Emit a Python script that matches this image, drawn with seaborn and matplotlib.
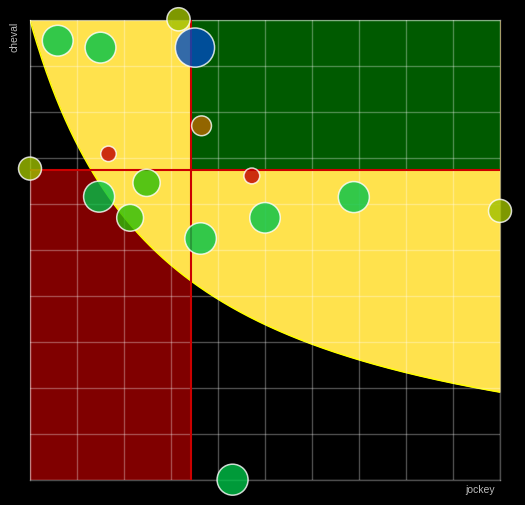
import numpy as np
import pandas as pd
import matplotlib
matplotlib.use("Agg")
import matplotlib.pyplot as plt
import seaborn as sns

# ---- data ----
jockey = [5.9, 15.0, 31.6, 35.1, 36.5, 16.7, 0.0, 14.7, 24.8, 21.3, 36.3, 47.2, 68.9, 50.0, 100.0, 43.1]
cheval = [95.5, 94.0, 100.15, 94.0, 77.0, 70.9, 67.7, 61.6, 64.6, 57.0, 52.5, 66.1, 61.5, 57.0, 58.5, 0.07]
diam = [32.3, 32.3, 24.7, 40.7, 21.3, 17.0, 24.5, 32.5, 28.7, 28.3, 33.0, 17.3, 32.5, 32.0, 24.5, 32.5]
group = ["green", "green", "olive", "blue", "brown", "red", "olive", "green", "lime", "lime",
         "green", "red", "green", "green", "olive", "green"]

x_threshold = 34.26
y_threshold = 67.39

# boundary of the yellow zone: (x + A) * (y + B) = C  (zone geometry)
zone_A, zone_B, zone_C = 28.55, 4.0, 2969.0

palette = {"green": "#00C248", "lime": "#2CBD08", "olive": "#9FBF00",
           "brown": "#B86900", "red": "#C00000", "blue": "#004CC0"}

df = pd.DataFrame({"jockey": jockey, "cheval": cheval, "diam": diam, "group": group})

sns.set_style("dark")
plt.rcParams["font.family"] = ["Liberation Sans", "DejaVu Sans"]

fig = plt.figure(figsize=(5.25, 5.05), dpi=100, facecolor="black")
ax = fig.add_axes([30 / 525, 25 / 505, 470 / 525, 460 / 505])
ax.set_facecolor("black")

ax.set_xlim(0, 100)
ax.set_ylim(0, 100)

cx = np.linspace(0, 100, 400)
cy = zone_C / (cx + zone_A) - zone_B

# zones
ax.fill_between([0, x_threshold], 0, y_threshold, color="#800000", lw=0, zorder=1.0)
ax.fill_between(cx, cy, 100, color="#FFE24D", lw=0, zorder=1.1)
ax.plot(cx, cy, color="#FFFF00", lw=1.1, zorder=1.15)
ax.fill_between([x_threshold, 100], y_threshold, 100, color="#005A00", lw=0, zorder=1.2)

# grid above zones
ax.set_axisbelow(False)
ax.set_xticks(np.arange(0, 101, 10))
ax.set_yticks(np.arange(0, 101, 10))
ax.grid(True, color="white", alpha=0.3, lw=1.0)
ax.tick_params(length=0, labelbottom=False, labelleft=False)
for sp in ax.spines.values():
    sp.set_visible(True)
    sp.set_color((1, 1, 1, 0.3))
    sp.set_linewidth(1.0)

# threshold lines
ax.axvline(x_threshold, color="#CC0000", lw=1.5, zorder=3)
ax.axhline(y_threshold, color="#CC0000", lw=1.5, zorder=3)

# bubbles
sizes = [((d - 1.5) * 0.72) ** 2 for d in df["diam"]]
sns.scatterplot(data=df, x="jockey", y="cheval", hue="group", palette=palette,
                s=sizes, alpha=0.8, edgecolor="white", linewidth=1.1,
                legend=False, ax=ax, zorder=5, clip_on=False)
ax.set_xlabel("")
ax.set_ylabel("")

fig.text(15 / 525, 1 - 22 / 505, "cheval", rotation=90, ha="center", va="top",
         color="#BBBBBB", fontsize=7.5)
fig.text(495 / 525, 1 - 485 / 505, "jockey", ha="right", va="top",
         color="#BBBBBB", fontsize=7.5)

fig.savefig("out.png", dpi=100, facecolor="black")
